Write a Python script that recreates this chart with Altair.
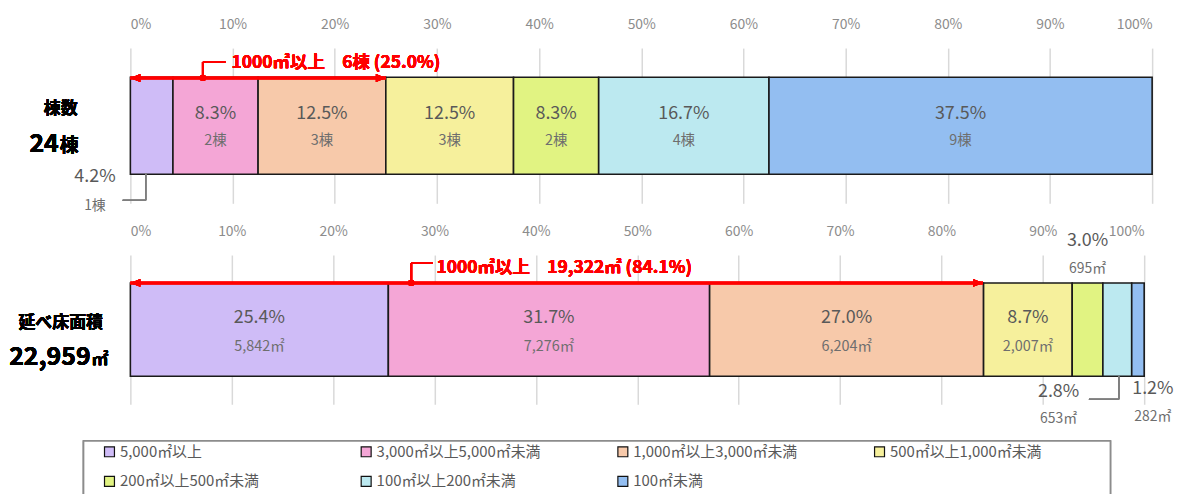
import altair as alt
import pandas as pd

# ---------------- data ----------------
categories = ["5,000㎡以上", "3,000㎡以上5,000㎡未満", "1,000㎡以上3,000㎡未満",
              "500㎡以上1,000㎡未満", "200㎡以上500㎡未満", "100㎡以上200㎡未満", "100㎡未満"]
colors = ["#CFBCF7", "#F4A6D6", "#F7C9AA", "#F6F09C", "#E1F382", "#BCE9F0", "#93BEF1"]
building_counts = [1, 2, 3, 3, 2, 4, 9]          # 棟
floor_areas = [5842, 7276, 6204, 2007, 695, 653, 282]  # ㎡
pct_ticks = [0, 10, 20, 30, 40, 50, 60, 70, 80, 90, 100]

FONT = "Noto Sans CJK JP"
GRAY = "#595959"
RED = "#FF0000"


def segments(values, fmt):
    total = sum(values)
    rows, cum = [], 0.0
    for i, (c, v) in enumerate(zip(categories, values)):
        share = v / total * 100
        rows.append(dict(row="r", cat=c, order=i, start=cum, end=cum + share,
                         mid=cum + share / 2, share=share,
                         pct=f"{share:.1f}%", amount=fmt(v)))
        cum += share
    return pd.DataFrame(rows)


top_df = segments(building_counts, lambda v: f"{v}棟")
bot_df = segments(floor_areas, lambda v: f"{v:,}㎡")

color_scale = alt.Scale(domain=categories, range=colors)
legend = alt.Legend(title=None, orient="none", legendX=-28.5, legendY=398,
                    direction="horizontal", columns=4, gridAlign="all",
                    columnPadding=75, rowPadding=14, symbolType="square",
                    symbolSize=100, symbolStrokeColor="#111111", symbolStrokeWidth=1.2,
                    labelFont=FONT, labelFontSize=15, labelColor=GRAY, labelLimit=400,
                    padding=0, labelOffset=3)


def panel(df, width, height, inner_dy, outside, left_texts, red, leaders, extra=None):
    x_scale = alt.Scale(domain=[0, 100], nice=False)
    x_axis = alt.Axis(orient="top", values=pct_ticks, labelExpr="datum.value + '%'",
                      grid=True, gridColor="#D9D9D9", gridWidth=1.5, domain=False,
                      ticks=False, tickSize=0, labelPadding=17, labelFont=FONT,
                      labelFontSize=14, labelColor="#8C8C8C", title=None)
    y_enc = alt.Y("row:N", axis=None,
                  scale=alt.Scale(paddingInner=0, paddingOuter=0.3))
    base = alt.Chart(df)
    bars = base.mark_bar(stroke="#1A1A1A", strokeWidth=1.6).encode(
        x=alt.X("start:Q", scale=x_scale, axis=x_axis),
        x2="end:Q",
        y=y_enc,
        color=alt.Color("cat:N", scale=color_scale, legend=legend),
    )
    inside = base.transform_filter("datum.share >= 5")
    pct_t = inside.mark_text(font=FONT, fontSize=18, color=GRAY, dy=inner_dy[0]).encode(
        x="mid:Q", y=y_enc, text="pct:N")
    amt_t = inside.mark_text(font=FONT, fontSize=14.5, color="#6E6E6E", dy=inner_dy[1]).encode(
        x="mid:Q", y=y_enc, text="amount:N")
    layers = [bars, pct_t, amt_t]

    # labels for narrow segments placed outside the bar
    for idx, dx, y_pct, y_amt in outside:
        one = base.transform_filter(f"datum.order == {idx}")
        layers.append(one.mark_text(font=FONT, fontSize=18, color=GRAY, dx=dx).encode(
            x="mid:Q", y=alt.value(y_pct), text="pct:N"))
        layers.append(one.mark_text(font=FONT, fontSize=14, color="#6E6E6E", dx=dx).encode(
            x="mid:Q", y=alt.value(y_amt), text="amount:N"))

    # grey leader lines for outside labels
    for (xa, xb, ya, yb) in leaders:
        if xa == xb:
            layers.append(alt.Chart(df).mark_rule(color="#7F7F7F", strokeWidth=1.2).encode(
                x=alt.datum(xa), y=alt.value(ya), y2=alt.value(yb)))
        else:
            layers.append(alt.Chart(df).mark_rule(color="#7F7F7F", strokeWidth=1.2).encode(
                x=alt.datum(xa), x2=alt.datum(xb), y=alt.value(ya)))

    # left-hand titles
    for txt, x, y, size, align in left_texts:
        layers.append(alt.Chart(df).mark_text(font=FONT, fontSize=size, fontWeight="bold",
                                              color="#000000", align=align,
                                              baseline="alphabetic").encode(
            x=alt.value(x), y=alt.value(y), text=alt.value(txt)))

    # red double arrow with callout
    end_pct, y_line, dot_x, call_y, call_x2, text_x, text_y, label = red
    layers.append(alt.Chart(df).mark_rule(color=RED, strokeWidth=2.5).encode(
        x=alt.datum(0), x2=alt.datum(end_pct), y=alt.value(y_line)))
    layers.append(alt.Chart(df).mark_point(shape="M0,0L2,-0.8L2,0.8Z", filled=True,
                                           color=RED, size=100, opacity=1).encode(
        x=alt.datum(0), y=alt.value(y_line)))
    layers.append(alt.Chart(df).mark_point(shape="M0,0L-2,-0.8L-2,0.8Z", filled=True,
                                           color=RED, size=100, opacity=1).encode(
        x=alt.datum(end_pct), y=alt.value(y_line)))
    layers.append(alt.Chart(df).mark_point(shape="circle", filled=True, color=RED,
                                           size=40, opacity=1).encode(
        x=alt.datum(dot_x), y=alt.value(y_line)))
    layers.append(alt.Chart(df).mark_rule(color=RED, strokeWidth=2).encode(
        x=alt.datum(dot_x), y=alt.value(call_y), y2=alt.value(y_line)))
    layers.append(alt.Chart(df).mark_rule(color=RED, strokeWidth=2).encode(
        x=alt.datum(dot_x), x2=alt.datum(call_x2), y=alt.value(call_y)))
    layers.append(alt.Chart(df).mark_text(font=FONT, fontSize=17.5, fontWeight="bold",
                                          color=RED, align="left", baseline="middle").encode(
        x=alt.datum(text_x), y=alt.value(text_y), text=alt.value(label)))
    if extra is not None:
        layers.insert(0, extra)
    return alt.layer(*layers).properties(width=width, height=height)


top = panel(
    top_df, 1027, 156, (-12, 15),
    outside=[(0, -57, 130, 159)],
    left_texts=[("棟数", -70, 66, 17, "center"),
                ("24", -72, 104, 25, "right"), ("棟", -71, 104, 19, "left")],
    red=(25.0, 30, 7.1, 14, 9.3, 9.9, 15, "1000㎡以上　6棟 (25.0%)"),
    leaders=[(1.5, 1.5, 126, 153), (-0.75, 1.5, 153, 153)],
)

legend_box = alt.Chart(bot_df).mark_rect(fill="white", stroke="#8C8C8C",
                                          strokeWidth=1.5).encode(
    x=alt.value(-47), x2=alt.value(985), y=alt.value(187), y2=alt.value(255))

bottom = panel(
    bot_df, 1019, 150, (-12, 17),
    outside=[(4, 0, -14, 14), (5, -59, 138, 165), (6, 15, 135, 163)],
    left_texts=[("延べ床面積", -70, 73, 17, "center"),
                ("22,959", -40, 111, 25, "right"), ("㎡", -39, 111, 17, "left")],
    red=(84.1, 28, 27.7, 8, 29.8, 30.2, 13, "1000㎡以上　19,322㎡ (84.1%)"),
    leaders=[(97.5, 97.5, 122, 145), (94.55, 97.5, 145, 145)],
    extra=legend_box,
)

chart = alt.vconcat(top, bottom, spacing=52, bounds="flush").resolve_scale(
    color="shared", x="independent"
).configure_view(stroke=None).properties(
    padding={"left": 1, "top": 8, "right": 5, "bottom": 5}
)

chart.save("out.html", embed_options={"renderer": "svg", "actions": False})
